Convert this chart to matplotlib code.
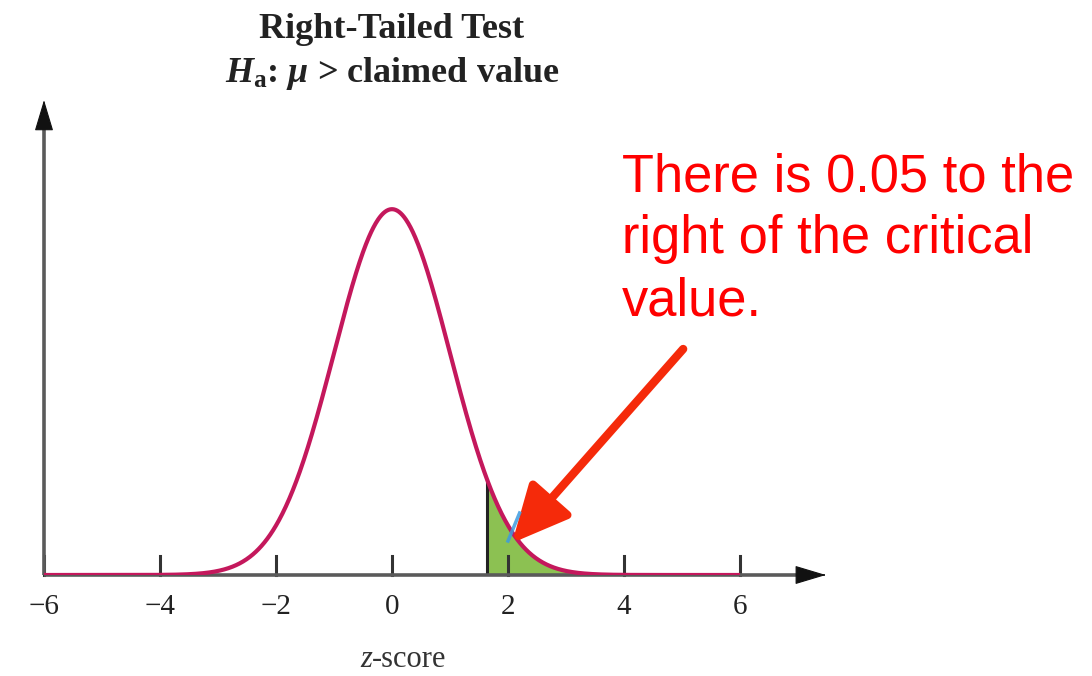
import numpy as np
import matplotlib
matplotlib.use("Agg")
import matplotlib.pyplot as plt

# Chart content
tick_values = [-6, -4, -2, 0, 2, 4, 6]
tick_labels = ["\u22126", "\u22124", "\u22122", "0", "2", "4", "6"]
critical_value = 1.645
alpha_text = "There is 0.05 to the\nright of the critical\nvalue."
title_line1 = "Right-Tailed Test"
title_line2 = r"$H_{\mathrm{a}}$: $\mu$ > claimed value"
x_label_var = "z"
x_label_rest = "-score"

plt.rcParams["mathtext.fontset"] = "custom"
plt.rcParams["mathtext.rm"] = "Liberation Serif:bold"
plt.rcParams["mathtext.it"] = "Liberation Serif:bold:italic"
plt.rcParams["mathtext.bf"] = "Liberation Serif:bold"

W, H = 1092, 676
PX = 917.0  # pixels per unit of density
fig = plt.figure(figsize=(W / 100, H / 100), dpi=100)
# axes box: x from -6 to 6, baseline 101px above the bottom edge
ax = fig.add_axes([44 / W, 101 / H, 696 / W, 475 / H])
ax.set_xlim(-6, 6)
ax.set_ylim(0, 475 / PX)
ax.axis("off")

z = np.linspace(-6, 6, 1201)
pdf = np.exp(-z ** 2 / 2) / np.sqrt(2 * np.pi)

# shaded rejection region
mask = z >= critical_value
ax.fill_between(z[mask], 0, pdf[mask], color="#8cc152", zorder=2)
ax.plot([critical_value, critical_value],
        [0, np.exp(-critical_value ** 2 / 2) / np.sqrt(2 * np.pi)],
        color="#222222", lw=2.2, zorder=3)

# tick marks
tick_h = 19 / PX
for t in tick_values:
    ax.plot([t, t], [0, tick_h], color="#333333", lw=2.2, zorder=3, clip_on=False)

# axis lines with black arrowheads
x_end = 7.48
y_end = 475 / PX
ax.plot([-6, x_end - 0.3], [0, 0], color="#5a5a5a", lw=2.6, zorder=4,
        clip_on=False, solid_capstyle="butt")
ax.plot([-6, -6], [0, y_end - 20 / PX], color="#5a5a5a", lw=2.6, zorder=4,
        clip_on=False, solid_capstyle="butt")
head = dict(arrowstyle="-|>,head_length=1.0,head_width=0.3", fc="#111111",
            ec="#111111", lw=0.8, mutation_scale=20, shrinkA=0, shrinkB=0)
ax.annotate("", xy=(x_end, 0), xytext=(x_end - 0.05, 0),
            arrowprops=head, annotation_clip=False, zorder=5)
ax.annotate("", xy=(-6, y_end), xytext=(-6, y_end - 0.005),
            arrowprops=head, annotation_clip=False, zorder=5)

# normal curve
ax.plot(z, pdf, color="#c4185c", lw=3.0, zorder=6, solid_capstyle="round")

# tick labels
for t, lab in zip(tick_values, tick_labels):
    ax.text(t, -32 / PX, lab, ha="center", va="center",
            family="Liberation Serif", fontsize=21, color="#222222")

# x label: italic variable followed by upright text
fig.text(372 / W, 1 - 667 / H, x_label_var, ha="right", va="baseline",
         family="Liberation Serif", style="italic", fontsize=22, color="#333333")
fig.text(372 / W, 1 - 667 / H, x_label_rest, ha="left", va="baseline",
         family="Liberation Serif", fontsize=22, color="#333333")

# title
fig.text(392 / W, 1 - 38 / H, title_line1, ha="center", va="baseline",
         family="Liberation Serif", fontweight="bold", fontsize=26, color="#222222")
fig.text(392 / W, 1 - 82 / H, title_line2, ha="center", va="baseline",
         family="Liberation Serif", fontweight="bold", fontsize=26, color="#222222")

# annotation (baseline of the last line)
fig.text(622 / W, 1 - 315 / H, alpha_text, ha="left", va="baseline",
         family="Liberation Sans", fontsize=37.8, color="#ff0000",
         linespacing=1.3, multialignment="left")

# pointer arrow
ax.annotate("", xy=(2.07, 32 / PX), xytext=(5.02, 226 / PX),
            arrowprops=dict(arrowstyle="-|>,head_length=1.15,head_width=0.55",
                            color="#f52a0a", lw=6, mutation_scale=30,
                            shrinkA=0, shrinkB=0),
            annotation_clip=False, zorder=7)

# small blue mark along the curve
ax.plot([2.0, 2.2], [34 / PX, 62 / PX], color="#3d9be0", lw=2.5, zorder=8, alpha=0.85)

fig.savefig("out.png", dpi=100)
